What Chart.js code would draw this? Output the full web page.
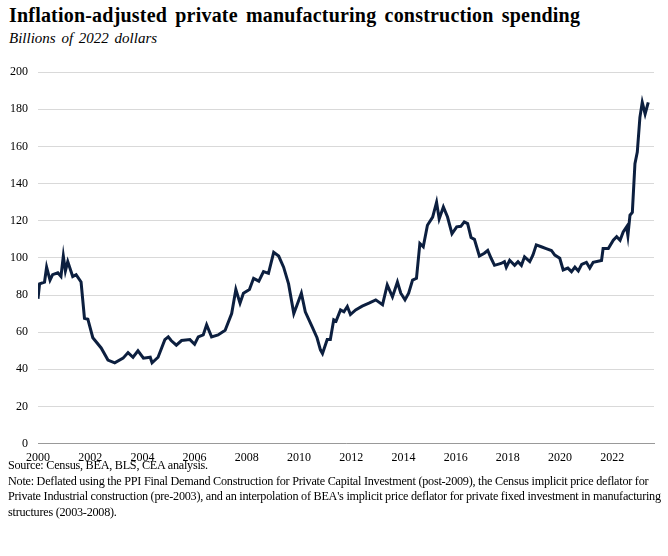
<!DOCTYPE html>
<html><head><meta charset="utf-8">
<script src="https://cdn.jsdelivr.net/npm/chart.js@4"></script>
<style>
body{margin:0;background:#fff;font-family:"Liberation Serif","Times New Roman",serif;}
#wrap{position:relative;width:668px;height:556px;}
#t{position:absolute;left:9px;top:4px;font-size:20px;font-weight:bold;color:#000;letter-spacing:0.2px;word-spacing:3px;}
#s{position:absolute;left:9px;top:30px;font-size:15px;font-style:italic;color:#000;word-spacing:2px;}
#c{position:absolute;left:0;top:55px;width:668px;height:412px;}
#n{position:absolute;left:8px;top:458px;font-size:12.2px;line-height:15.5px;color:#000;width:655px;letter-spacing:-0.25px;}
</style></head><body>
<div id="wrap">
<div id="t">Inflation-adjusted private manufacturing construction spending</div>
<div id="s">Billions of 2022 dollars</div>
<div id="c"><canvas id="cv"></canvas></div>
<div id="n">Source: Census, BEA, BLS, CEA analysis.<br>Note: Deflated using the PPI Final Demand Construction for Private Capital Investment (post-2009), the Census implicit price deflator for Private Industrial construction (pre-2003), and an interpolation of BEA's implicit price deflator for private fixed investment in manufacturing structures (2003-2008).</div>
</div>
<script>
const years=[2000.0,2000.06,2000.25,2000.33,2000.46,2000.56,2000.76,2000.88,2000.97,2001.05,2001.14,2001.33,2001.46,2001.65,2001.78,2001.91,2002.1,2002.42,2002.68,2002.94,2003.26,2003.45,2003.64,2003.83,2004.04,2004.3,2004.37,2004.6,2004.86,2004.99,2005.1,2005.3,2005.5,2005.82,2006.0,2006.14,2006.33,2006.46,2006.65,2006.9,2007.17,2007.42,2007.58,2007.74,2007.87,2008.1,2008.26,2008.46,2008.64,2008.83,2009.03,2009.22,2009.41,2009.6,2009.8,2009.92,2010.09,2010.24,2010.5,2010.69,2010.82,2010.9,2011.08,2011.2,2011.33,2011.42,2011.59,2011.72,2011.85,2011.97,2012.17,2012.42,2012.68,2012.94,2013.2,2013.38,2013.58,2013.77,2013.9,2014.06,2014.2,2014.35,2014.5,2014.63,2014.76,2014.92,2015.12,2015.27,2015.37,2015.53,2015.69,2015.86,2016.04,2016.2,2016.33,2016.46,2016.59,2016.72,2016.91,2017.1,2017.23,2017.36,2017.49,2017.74,2017.87,2017.94,2018.07,2018.26,2018.39,2018.52,2018.64,2018.84,2018.96,2019.09,2019.28,2019.47,2019.67,2019.8,2019.99,2020.12,2020.3,2020.44,2020.57,2020.7,2020.83,2021.01,2021.14,2021.27,2021.59,2021.65,2021.85,2022.04,2022.17,2022.3,2022.42,2022.55,2022.6,2022.68,2022.77,2022.87,2022.96,2023.06,2023.15,2023.26,2023.38];
const spending=[78,86,87,95,88,91,92,90,101,93,98,90,91,87,67.5,67,57,51.5,45,43.5,46,49,46.5,50,46,46.5,43.5,46.5,56,57.5,55.5,53,55.5,56,53.5,57.5,58.5,64,57.5,58.5,61,70,83,75.6,81,83,89,87.5,92.6,91.7,103,101,95,86,70,74.5,81,71,63,57,50.5,48.5,56,56,66.7,66,72,71,73.8,69.5,72,74,75.6,77.4,74.8,85.4,79,87,81,77.4,81,88,89,107.8,106,117.6,122,130,121,127.4,122,113,116.7,117,119.4,118.5,111,110,101,102.5,104,99.8,96,97,98,95,98.7,96,98,96,100.6,98,101.5,107,106,105,104,101.5,99.8,93.5,94.5,92.6,95,93,96.5,97.6,94.5,97.6,98.6,105,105,109.5,111.4,109.5,114,116.7,112,123,124.5,150.7,157,175.7,183.8,177.5,183.8];
const xTicks=[2000,2002,2004,2006,2008,2010,2012,2014,2016,2018,2020,2022];
const pts=years.map((x,i)=>({x:x,y:spending[i]}));
new Chart(document.getElementById('cv'),{
type:'line',
data:{datasets:[{data:pts,borderColor:'#0c1f3f',borderWidth:3,pointRadius:0,tension:0,fill:false}]},
options:{responsive:true,maintainAspectRatio:false,animation:false,
layout:{padding:{left:0,right:14,top:6,bottom:0}},
plugins:{legend:{display:false},tooltip:{enabled:false}},
scales:{
x:{type:'linear',min:2000,max:2023.6,
 afterBuildTicks:s=>{s.ticks=xTicks.map(v=>({value:v}));},
 ticks:{callback:v=>String(v),color:'#000',font:{family:'Liberation Serif',size:12},maxRotation:0,padding:2},
 grid:{display:false,drawTicks:true,tickLength:5,color:'#999'},border:{color:'#999'}},
y:{min:0,max:200,ticks:{stepSize:20,color:'#000',font:{family:'Liberation Serif',size:12},padding:10},
 grid:{color:'#d9d9d9',drawTicks:false},border:{display:false}}
}}});
</script>
</body></html>
